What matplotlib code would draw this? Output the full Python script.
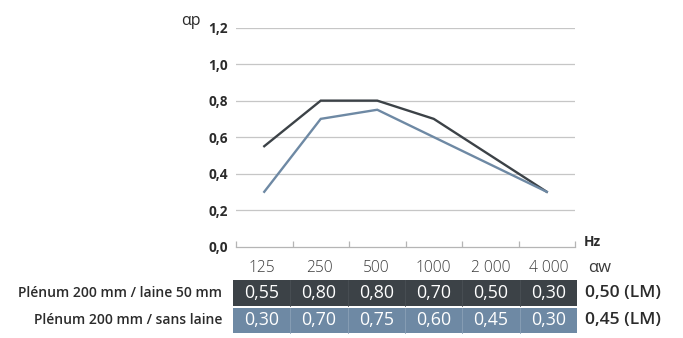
import matplotlib
matplotlib.use('Agg')
import matplotlib.pyplot as plt
from matplotlib.patches import Rectangle

plt.rcParams['font.family'] = ['Open Sans', 'DejaVu Sans']

# data
freqs = ['125', '250', '500', '1000', '2 000', '4 000']
series_labels = ['Plénum 200 mm / laine 50 mm', 'Plénum 200 mm / sans laine']
laine_50 = [0.55, 0.80, 0.80, 0.70, 0.50, 0.30]
sans_laine = [0.30, 0.70, 0.75, 0.60, 0.45, 0.30]
alpha_w = ['0,50 (LM)', '0,45 (LM)']
y_ticks = [0.0, 0.2, 0.4, 0.6, 0.8, 1.0, 1.2]

colors = ['#3c4247', '#6e89a4']
divider = ['#4a5055', '#8aa0b6']
text_dark = '#2b2b2b'

W, H = 683, 338
fig = plt.figure(figsize=(W / 100, H / 100), dpi=100)

# main chart axes (pixel geometry from the reference)
x0, x1 = 236, 575
y_top, y_bot = 27.7, 246.5
ax = fig.add_axes([x0 / W, 1 - y_bot / H, (x1 - x0) / W, (y_bot - y_top) / H])
ax.set_xlim(0, len(freqs))
ax.set_ylim(0, 1.2)

xs = [i + 0.5 for i in range(len(freqs))]
ax.plot(xs, laine_50, color=colors[0], lw=1.7, zorder=3, solid_joinstyle='miter')
ax.plot(xs, sans_laine, color=colors[1], lw=1.7, zorder=3, solid_joinstyle='miter')

for v in y_ticks[1:]:
    ax.axhline(v, color='#c6c6c6', lw=0.9, zorder=1)

for s in ['top', 'right', 'left']:
    ax.spines[s].set_visible(False)
ax.spines['bottom'].set_color('#b5b5b5')
ax.spines['bottom'].set_linewidth(0.9)

ax.set_xticks(range(len(freqs) + 1))
ax.set_xticklabels([])
ax.tick_params(axis='x', direction='in', length=4, color='#b5b5b5', width=0.9)
ax.set_yticks(y_ticks)
ax.set_yticklabels([f'{v:.1f}'.replace('.', ',') for v in y_ticks],
                   fontweight='bold', fontsize=9.8, color=text_dark)
ax.tick_params(axis='y', length=0, pad=6)

fig.text(181 / W, 1 - 21 / H, 'αp', fontsize=11.5, color=text_dark, va='center', ha='left')
fig.text(584 / W, 1 - 242 / H, 'Hz', fontsize=9.8, fontweight='bold', color=text_dark,
         va='center', ha='left')

# table
tx0, tx1 = 233, 577
cell_w = (tx1 - tx0) / len(freqs)
header_y = 268
rows = [laine_50, sans_laine]
row_top = [280, 307.5]
row_h = 25.5

for i, f in enumerate(freqs):
    cx = tx0 + cell_w * (i + 0.5)
    fig.text(cx / W, 1 - header_y / H, f, fontsize=11.2, color='#3a3a3a',
             ha='center', va='center', fontweight='light')
fig.text(588 / W, 1 - header_y / H, 'αw', fontsize=12, color='#3a3a3a', ha='left',
         va='center')

for r, vals in enumerate(rows):
    top = row_top[r]
    fig.patches.append(Rectangle((tx0 / W, 1 - (top + row_h) / H), (tx1 - tx0) / W, row_h / H,
                                 transform=fig.transFigure, facecolor=colors[r], lw=0))
    for i, v in enumerate(vals):
        left = tx0 + cell_w * i
        if i > 0:
            fig.add_artist(plt.Line2D([left / W, left / W],
                                      [1 - (top + row_h) / H, 1 - top / H],
                                      transform=fig.transFigure, color=divider[r], lw=0.6))
        fig.text((left + cell_w / 2) / W, 1 - (top + row_h / 2) / H,
                 f'{v:.2f}'.replace('.', ','), fontsize=12.8, color='white',
                 ha='center', va='center')
    fig.text(222 / W, 1 - (top + row_h / 2) / H, series_labels[r], fontsize=10,
             fontweight='semibold', color=text_dark, ha='right', va='center')
    fig.text(585 / W, 1 - (top + row_h / 2) / H, alpha_w[r], fontsize=12.6,
             fontweight='semibold', color=text_dark, ha='left', va='center')

fig.savefig('out.png', dpi=100)
